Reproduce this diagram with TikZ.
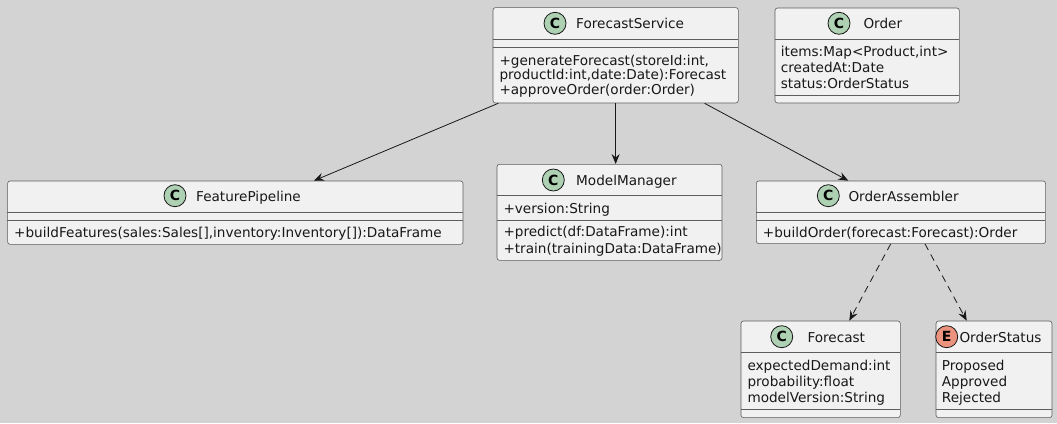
\documentclass[tikz,border=0pt]{standalone}
\usepackage{fontspec}
\setmainfont{DejaVu Sans}
\usepackage{tikz}
\usetikzlibrary{arrows.meta}
\definecolor{umlbg}{RGB}{211,211,211}
\definecolor{umlfill}{RGB}{241,241,241}
\definecolor{umlline}{RGB}{24,24,24}
\definecolor{classgreen}{HTML}{ADD1B2}
\definecolor{enumred}{HTML}{EB937F}

\begin{document}
\begin{tikzpicture}[x=1pt, y=-1pt, font=\fontsize{13.6pt}{16.3pt}\selectfont]
		\tikzstyle{umlclass} = [rectangle, rounded corners=2.5pt, draw=umlline!70, line width=0.6pt, fill=umlfill, anchor=north west, inner sep=0pt]
		
		\tikzstyle{icon} = [circle, draw=umlline, line width=0.8pt, minimum size=22pt, inner sep=0pt, font=\fontsize{14pt}{14pt}\selectfont\bfseries]
		
		\tikzstyle{classname} = [anchor=base west, inner sep=0pt, text=umlline]
		\tikzstyle{member} = [anchor=base west, inner sep=0pt, text=umlline]
		\tikzstyle{divider} = [draw=umlline!70, line width=0.6pt]
		
		\tikzstyle{arrow} = [draw=umlline, line width=0.8pt, -{Stealth[length=10pt, width=8pt, inset=3.5pt]}]
		\tikzstyle{dep} = [arrow, dash pattern=on 7pt off 5pt]
		%-------------------------------------------------------
		% Background of the figure
		\fill [umlbg] (0,0) rectangle (1057,423);
		
		% ForecastService
		\node (service) [umlclass, minimum width=245.3pt, minimum height=95.4pt] at (492.7,7.3) {};
		\node (serviceicon) [icon, fill=classgreen] at (555,23.3) {C};
		\node (servicename) [classname] at (576,28.8) {ForecastService};
		\draw [divider] (492.7,39.3) -- (738,39.3);
		\draw [divider] (492.7,47.3) -- (738,47.3);
		\node (service1) [member] at (499.3,65) {+generateForecast(storeId:int,};
		\node (service2) [member] at (499.3,79.5) {productId:int,date:Date):Forecast};
		\node (service3) [member] at (499.3,94) {+approveOrder(order:Order)};
		
		% Order
		\node (order) [umlclass, minimum width=184.3pt, minimum height=95pt] at (774.7,7.7) {};
		\node (ordericon) [icon, fill=classgreen] at (839,23.3) {C};
		\node (ordername) [classname] at (863.3,28.8) {Order};
		\draw [divider] (774.7,39.3) -- (959,39.3);
		\node (order1) [member] at (780.7,56) {items:Map<Product,int>};
		\node (order2) [member] at (780.7,72.3) {createdAt:Date};
		\node (order3) [member] at (780.7,88.6) {status:OrderStatus};
		\draw [divider] (774.7,95.7) -- (959,95.7);
		
		% FeaturePipeline
		\node (feature) [umlclass, minimum width=455.4pt, minimum height=63.3pt] at (7.3,180.7) {};
		\node (featureicon) [icon, fill=classgreen] at (175,195.7) {C};
		\node (featurename) [classname] at (196,201.2) {FeaturePipeline};
		\draw [divider] (7.3,212.3) -- (462.7,212.3);
		\draw [divider] (7.3,220) -- (462.7,220);
		\node (feature1) [member] at (14,237) {+buildFeatures(sales:Sales[],inventory:Inventory[]):DataFrame};
		
		% ModelManager
		\node (model) [umlclass, minimum width=225pt, minimum height=96pt] at (496.7,164) {};
		\node (modelicon) [icon, fill=classgreen] at (553.3,180) {C};
		\node (modelname) [classname] at (576,185.5) {ModelManager};
		\draw [divider] (496.7,195) -- (721.7,195);
		\node (model1) [member] at (503.3,213.4) {+version:String};
		\draw [divider] (496.7,220.7) -- (721.7,220.7);
		\node (model2) [member] at (503.3,236.8) {+predict(df:DataFrame):int};
		\node (model3) [member] at (503.3,253.4) {+train(trainingData:DataFrame)};
		
		% OrderAssembler
		\node (assembler) [umlclass, minimum width=289.3pt, minimum height=62.6pt] at (756,180.7) {};
		\node (assemblericon) [icon, fill=classgreen] at (828.3,195.7) {C};
		\node (assemblername) [classname] at (848.3,201.2) {OrderAssembler};
		\draw [divider] (756,212.3) -- (1045.3,212.3);
		\draw [divider] (756,220) -- (1045.3,220);
		\node (assembler1) [member] at (762.7,237) {+buildOrder(forecast:Forecast):Order};
		
		% Forecast
		\node (forecast) [umlclass, minimum width=159.3pt, minimum height=96.6pt] at (740.7,320.7) {};
		\node (forecasticon) [icon, fill=classgreen] at (781.7,336.7) {C};
		\node (forecastname) [classname] at (807.3,342.2) {Forecast};
		\draw [divider] (740.7,352.7) -- (900,352.7);
		\node (forecast1) [member] at (747.3,370) {expectedDemand:int};
		\node (forecast2) [member] at (747.3,386.3) {probability:float};
		\node (forecast3) [member] at (747.3,402.6) {modelVersion:String};
		\draw [divider] (740.7,409.3) -- (900,409.3);
		
		% OrderStatus
		\node (status) [umlclass, minimum width=116pt, minimum height=96.6pt] at (935.7,320.7) {};
		\node (statusicon) [icon, fill=enumred] at (946.7,336.7) {E};
		\node (statusname) [classname] at (959.3,342.2) {OrderStatus};
		\draw [divider] (935.7,352.7) -- (1051.7,352.7);
		\node (status1) [member] at (941.7,370) {Proposed};
		\node (status2) [member] at (941.7,386.3) {Approved};
		\node (status3) [member] at (941.7,402.6) {Rejected};
		\draw [divider] (935.7,409.3) -- (1051.7,409.3);
		
		% Connectors
		\draw [arrow] ([xshift=5.6pt]service.south west) -- ([xshift=-149.4pt]feature.north east);
		\draw [arrow] (service.south) -- (service.south |- model.north);
		\draw [arrow] ([xshift=-34pt]service.south east) -- ([xshift=92.3pt]assembler.north west);
		
		\draw [dep] ([xshift=134.7pt]assembler.south west) -- ([xshift=108.6pt]forecast.north west);
		\draw [dep] ([xshift=169pt]assembler.south west) -- ([xshift=31pt]status.north west);
		\end{tikzpicture}
\end{document}
